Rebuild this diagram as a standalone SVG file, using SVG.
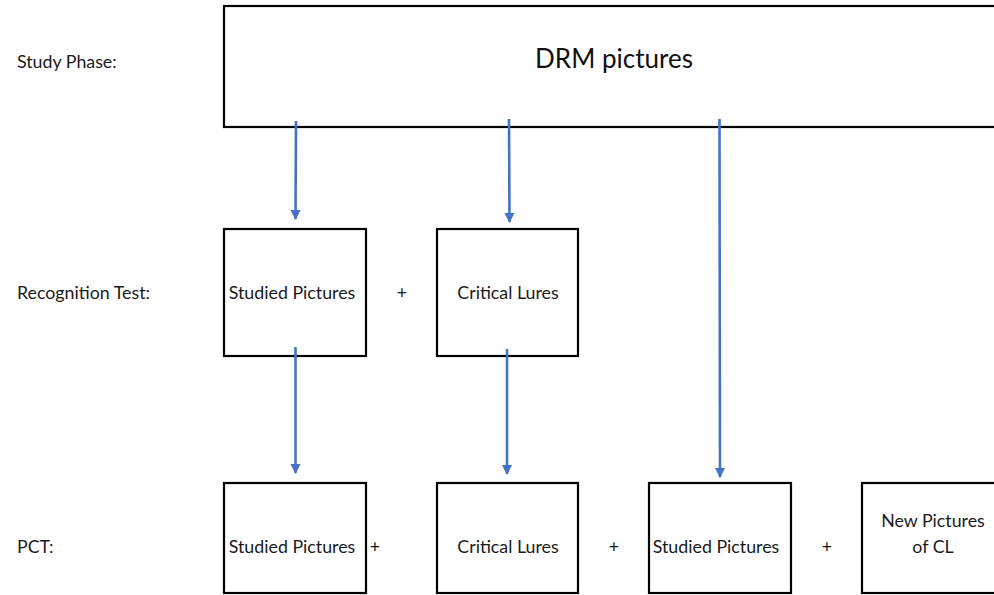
<svg xmlns="http://www.w3.org/2000/svg" width="994" height="595" viewBox="0 0 994 595">
<defs>
<style>
.box{fill:#fff;stroke:#000;stroke-width:2.2}
.lbl{font-family:Lato,"Liberation Sans",sans-serif;font-size:17.8px;fill:#1a1a1a}
.c{text-anchor:middle}
.arr{stroke:#4472C4;stroke-width:2.6;fill:none;marker-end:url(#ah)}
</style>
<marker id="ah" viewBox="0 0 10 10" refX="9" refY="5" markerWidth="4" markerHeight="4" orient="auto" markerUnits="strokeWidth">
<path d="M0,0 L10,5 L0,10 z" fill="#4472C4"/>
</marker>
</defs>
<rect width="994" height="595" fill="#fff"/>
<text class="lbl" x="17" y="68">Study Phase:</text>
<text class="lbl" x="17" y="299">Recognition Test:</text>
<text class="lbl" x="17" y="553">PCT:</text>
<g id="drm">
<rect class="box" x="224" y="6" width="790" height="121"/>
<text x="614" y="68" class="c" style="font-family:Lato,'Liberation Sans',sans-serif;font-size:26px;fill:#111">DRM pictures</text>
</g>
<g id="rec-studied">
<rect class="box" x="224" y="229" width="142" height="127"/>
<text class="lbl c" x="292" y="299">Studied Pictures</text>
</g>
<text class="lbl c" x="402" y="299">+</text>
<g id="rec-lures">
<rect class="box" x="437" y="229" width="141" height="127"/>
<text class="lbl c" x="508" y="299">Critical Lures</text>
</g>
<g id="pct-studied">
<rect class="box" x="224" y="483" width="142" height="110"/>
<text class="lbl c" x="292" y="553">Studied Pictures</text>
</g>
<text class="lbl c" x="375" y="553">+</text>
<g id="pct-lures">
<rect class="box" x="437" y="483" width="141" height="110"/>
<text class="lbl c" x="508" y="553">Critical Lures</text>
</g>
<text class="lbl c" x="614" y="553">+</text>
<g id="pct-studied2">
<rect class="box" x="649" y="483" width="142" height="110"/>
<text class="lbl c" x="716" y="553">Studied Pictures</text>
</g>
<text class="lbl c" x="827" y="553">+</text>
<g id="pct-new">
<rect class="box" x="862" y="483" width="150" height="110"/>
<text class="lbl c" x="933" y="527">New Pictures</text>
<text class="lbl c" x="933" y="553">of CL</text>
</g>
<g id="connectors">
<line class="arr" x1="296" y1="121" x2="295.5" y2="219"/>
<line class="arr" x1="509" y1="119" x2="509.5" y2="222"/>
<line class="arr" x1="719.5" y1="119" x2="720" y2="477"/>
<line class="arr" x1="295.5" y1="347" x2="295.5" y2="473"/>
<line class="arr" x1="507" y1="349" x2="507" y2="474"/>
</g>
</svg>
